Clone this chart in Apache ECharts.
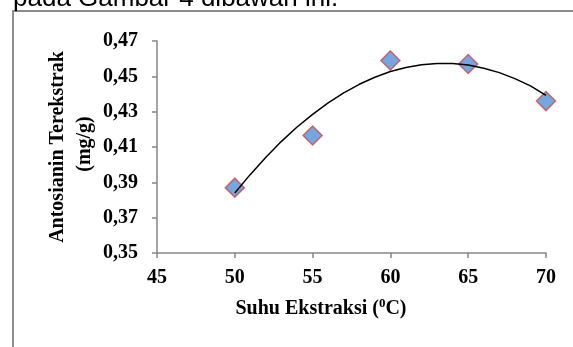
<!DOCTYPE html>
<html>
<head>
<meta charset="utf-8">
<script src="https://cdn.jsdelivr.net/npm/echarts@6/dist/echarts.min.js"></script>
<style>
  html, body { margin: 0; padding: 0; background: #fff; }
  #chart { width: 573px; height: 347px; }
</style>
</head>
<body>
<div id="chart"></div>
<script>
// measured points
const suhu = [50, 55, 60, 65, 70];
const antosianin = [0.387, 0.4165, 0.459, 0.457, 0.436];

// trend line (poly, order 2), one value per degree
const trendX = [50, 51, 52, 53, 54, 55, 56, 57, 58, 59, 60,
                61, 62, 63, 64, 65, 66, 67, 68, 69, 70];
const trendY = [0.3840, 0.3945, 0.4042, 0.4132, 0.4213, 0.4285, 0.4350, 0.4406, 0.4455, 0.4495, 0.4527,
                0.4550, 0.4566, 0.4573, 0.4573, 0.4564, 0.4546, 0.4521, 0.4487, 0.4446, 0.4392];

const xTicks = [45, 50, 55, 60, 65, 70];
const yTicks = [0.35, 0.37, 0.39, 0.41, 0.43, 0.45, 0.47];

const serif = "'Liberation Serif', 'Times New Roman', serif";
const axisGray = '#868686';

const chart = echarts.init(document.getElementById('chart'));

const option = {
    animation: false,
    grid: {left: 157, top: 41, right: 27, bottom: 94},
    xAxis: {
        type: 'value',
        min: xTicks[0],
        max: xTicks[xTicks.length - 1],
        interval: 5,
        splitLine: {show: false},
        axisLine: {lineStyle: {color: axisGray, width: 1.5}},
        axisTick: {length: 5, lineStyle: {color: axisGray, width: 1.5}},
        axisLabel: {
            margin: 15,
            color: '#000',
            fontFamily: serif,
            fontWeight: 'bold',
            fontSize: 20
        }
    },
    yAxis: {
        type: 'value',
        min: yTicks[0],
        max: yTicks[yTicks.length - 1],
        interval: 0.02,
        splitLine: {show: false},
        axisLine: {show: true, lineStyle: {color: axisGray, width: 1.5}},
        axisTick: {show: true, length: 5, lineStyle: {color: axisGray, width: 1.5}},
        axisLabel: {
            margin: 19,
            color: '#000',
            fontFamily: serif,
            fontWeight: 'bold',
            fontSize: 20,
            formatter: v => v.toFixed(2).replace('.', ',')
        }
    },
    series: [
        {
            type: 'line',
            data: trendX.map((x, i) => [x, trendY[i]]),
            showSymbol: false,
            lineStyle: {color: '#000', width: 1.5},
            z: 3
        },
        {
            type: 'scatter',
            data: suhu.map((x, i) => [x, antosianin[i]]),
            symbol: 'diamond',
            symbolSize: 19,
            itemStyle: {color: '#558ED5', borderColor: '#C0504D', borderWidth: 1.5},
            z: 2
        }
    ],
    graphic: [
        {
            type: 'rect',
            shape: {x: 13, y: 11, width: 700, height: 500},
            style: {fill: 'none', stroke: '#8c8c8c', lineWidth: 2},
            silent: true
        },
        {
            type: 'text',
            x: 13, y: 12,
            style: {
                text: 'pada Gambar 4 dibawah ini.',
                font: "26px 'Liberation Sans', Arial, sans-serif",
                fill: '#000',
                verticalAlign: 'bottom'
            }
        },
        {
            type: 'text',
            x: 58, y: 147,
            rotation: Math.PI / 2,
            style: {
                text: 'Antosianin Terekstrak',
                font: "bold 20px " + serif,
                fill: '#000',
                align: 'center',
                verticalAlign: 'middle'
            }
        },
        {
            type: 'text',
            x: 85, y: 144,
            rotation: Math.PI / 2,
            style: {
                text: '(mg/g)',
                font: "bold 20px " + serif,
                fill: '#000',
                align: 'center',
                verticalAlign: 'middle'
            }
        },
        {
            type: 'text',
            x: 321, y: 308,
            style: {
                text: '{a|Suhu Ekstraksi (}{s|0}{a|C)}',
                align: 'center',
                verticalAlign: 'middle',
                rich: {
                    a: {font: "bold 20px " + serif, fill: '#000', verticalAlign: 'bottom'},
                    s: {font: "bold 13px " + serif, fill: '#000', verticalAlign: 'top', padding: [0, 0, 8, 0]}
                }
            }
        }
    ]
};

chart.setOption(option);
</script>
</body>
</html>
